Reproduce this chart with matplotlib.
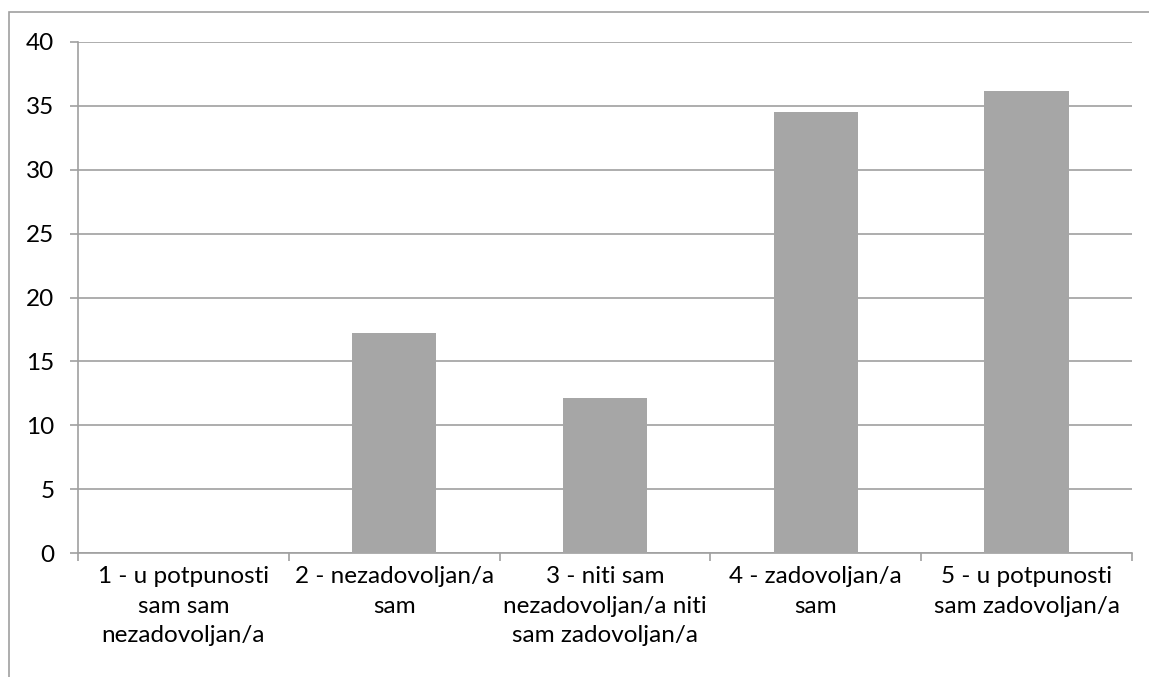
import matplotlib.pyplot as plt
from matplotlib.patches import Rectangle

categories = [
    "1 - u potpunosti\nsam sam\nnezadovoljan/a",
    "2 - nezadovoljan/a\nsam",
    "3 - niti sam\nnezadovoljan/a niti\nsam zadovoljan/a",
    "4 - zadovoljan/a\nsam",
    "5 - u potpunosti\nsam zadovoljan/a",
]
values = [0, 17.2, 12.1, 34.5, 36.2]
yticks = [0, 5, 10, 15, 20, 25, 30, 35, 40]

plt.rcParams['font.family'] = ['Lato', 'DejaVu Sans']

W, H = 1149, 677
fig = plt.figure(figsize=(W / 100, H / 100), dpi=100)
ax = fig.add_axes([78 / W, 1 - 553 / H, (1132 - 78) / W, (553 - 42) / H])

grid_c = '#a0a0a0'
x = list(range(len(categories)))
ax.bar(x, values, width=0.4, color='#a6a6a6', zorder=3)

ax.set_xlim(-0.5, len(categories) - 0.5)
ax.set_ylim(0, 40)
ax.set_yticks(yticks)
ax.set_yticklabels([str(v) for v in yticks], fontsize=17.5)
ax.yaxis.grid(True, color=grid_c, linewidth=1.2, zorder=0)

# category labels centred, ticks on the boundaries
ax.set_xticks(x)
ax.set_xticklabels(categories, fontsize=17.5, linespacing=1.5)
ax.tick_params(axis='x', length=0, pad=9.5)
ax.set_xticks([i - 0.5 for i in range(len(categories) + 1)], minor=True)
ax.tick_params(axis='x', which='minor', length=6, color=grid_c, width=1.2)
ax.tick_params(axis='y', length=6, color=grid_c, width=1.2, pad=11)

for s in ['top', 'right']:
    ax.spines[s].set_visible(False)
for s in ['left', 'bottom']:
    ax.spines[s].set_color(grid_c)
    ax.spines[s].set_linewidth(1.2)

# outer chart frame (clipped by image edges)
fig.patches.append(Rectangle((9 / W, -0.1), 1.2, 1 - 12 / H + 0.1,
                             transform=fig.transFigure, fill=False,
                             edgecolor='#a0a0a0', linewidth=1.2))

fig.savefig('out.png', dpi=100)
